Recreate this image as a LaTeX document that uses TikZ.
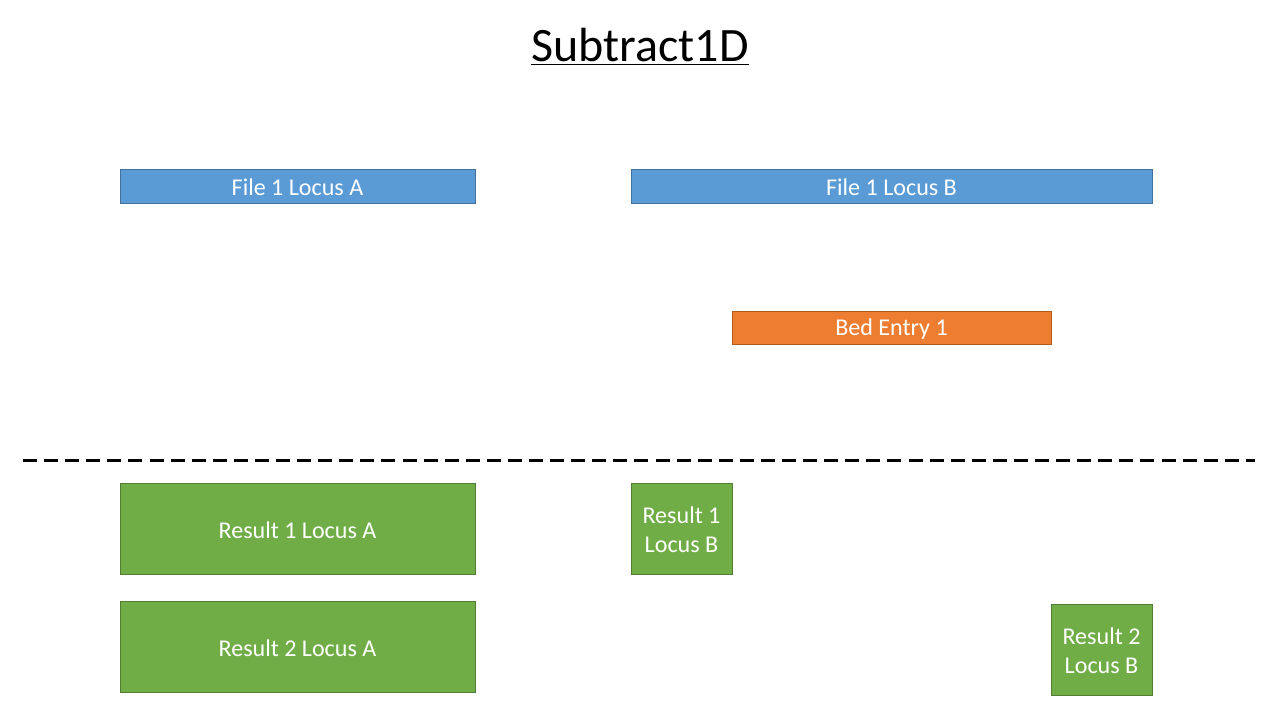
\documentclass[tikz,border=0pt]{standalone}
\usepackage{fontspec}
\setmainfont{Carlito}
\definecolor{fileblue}{HTML}{5B9BD5}
\definecolor{fileedge}{HTML}{41719C}
\definecolor{bedorange}{HTML}{ED7D31}
\definecolor{bededge}{HTML}{AE5A21}
\definecolor{resgreen}{HTML}{70AD47}
\definecolor{resedge}{HTML}{507E32}
\begin{document}
\begin{tikzpicture}[x=0.02cm,y=-0.02cm]
\tikzset{every node/.style={font=\fontsize{13.7}{16.5}\selectfont, text=white, align=center, inner sep=0pt, yshift=-0.8pt},
  filebox/.style={fill=fileblue, draw=fileedge, line width=0.5pt},
  bedbox/.style={fill=bedorange, draw=bededge, line width=0.5pt},
  resbox/.style={fill=resgreen, draw=resedge, line width=0.5pt}}
\useasboundingbox (0,0) rectangle (1280,720);

% Title
\node[text=black, font=\fontsize{27.3}{30}\selectfont] (title) at (640,45) {\underline{Subtract1D}};

% Input boxes
\draw[filebox] (120,169) rectangle (475,203) node[midway] (fileA) {File 1 Locus A};
\draw[filebox] (631,169) rectangle (1152,203) node[midway] (fileB) {File 1 Locus B};
\draw[bedbox] (732,311) rectangle (1051,344) node[midway] (bed) {Bed Entry 1};

% Separator
\coordinate (sepL) at (23,459);
\coordinate (sepR) at (1255,459);
\draw[line width=1.7pt, dash pattern=on 8pt off 4pt] (sepL) -- (sepR);

% Results
\draw[resbox] (120,483) rectangle (475,574) node[midway] (resA1) {Result 1 Locus A};
\draw[resbox] (631,483) rectangle (732,574) node[midway] (resB1) {Result 1\\Locus B};
\draw[resbox] (120,601) rectangle (475,692) node[midway] (resA2) {Result 2 Locus A};
\draw[resbox] (1051,604) rectangle (1152,695) node[midway] (resB2) {Result 2\\Locus B};
\end{tikzpicture}
\end{document}
